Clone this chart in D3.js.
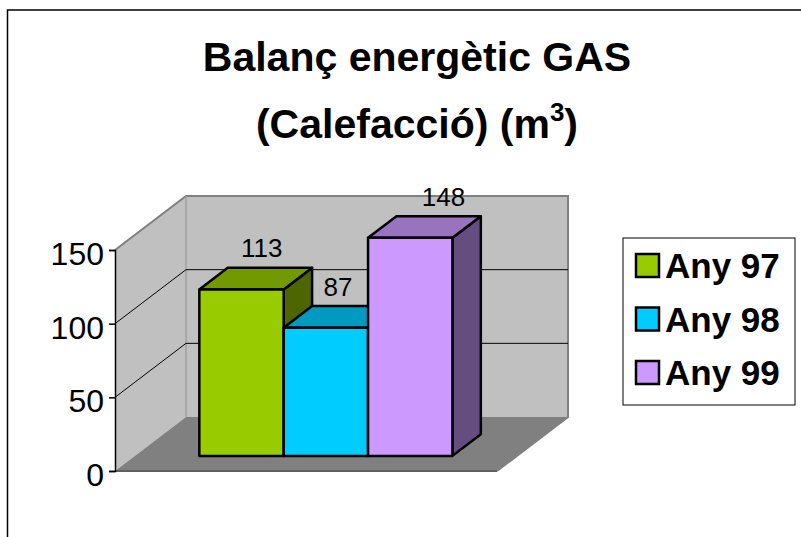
<!DOCTYPE html>
<html>
<head>
<meta charset="utf-8">
<script src="https://cdn.jsdelivr.net/npm/d3@7"></script>
<style>
  body { margin: 0; background: #fff; }
  svg { display: block; font-family: "Liberation Sans", Arial, sans-serif; }
</style>
</head>
<body>
<div id="chart"></div>
<script>
var series = ["Any 97", "Any 98", "Any 99"];
var values = [113, 87, 148];
var yTicks = [0, 50, 100, 150];
var colors = ["#99cc00", "#00ccff", "#cc99ff"];
var titleLines = ["Balanç energètic GAS", "(Calefacció) (m"];

var width = 801, height = 537;

var svg = d3.select("#chart").append("svg")
  .attr("width", width)
  .attr("height", height);

// outer chart frame (only left + top visible)
svg.append("rect")
  .attr("x", 7.5).attr("y", 10)
  .attr("width", 900).attr("height", 700)
  .attr("fill", "none").attr("stroke", "#000").attr("stroke-width", 1.5);

// 3d geometry
var depthX = 71, depthY = -54;
var floorL = 115, floorR = 497;
var y = d3.scaleLinear().domain([0, 150]).range([471, 250]);
var x = d3.scaleBand().domain(series).range([floorL, floorR])
  .paddingInner(0).paddingOuter(0.764);
var d0 = 0.28, d1 = 0.68;

function p(px, v, d) {
  return [px + depthX * d, y(v) + depthY * d];
}
function poly(pts) {
  return pts.map(function(q) { return q[0] + "," + q[1]; }).join(" ");
}

// walls
svg.append("polygon")
  .attr("points", poly([p(floorL, 0, 0), p(floorL, 150, 0), p(floorL, 150, 1), p(floorL, 0, 1)]))
  .attr("fill", "#c0c0c0");
svg.append("polygon")
  .attr("points", poly([p(floorL, 0, 1), p(floorR, 0, 1), p(floorR, 150, 1), p(floorL, 150, 1)]))
  .attr("fill", "#c0c0c0");
svg.append("polygon")
  .attr("points", poly([p(floorL, 0, 0), p(floorR, 0, 0), p(floorR, 0, 1), p(floorL, 0, 1)]))
  .attr("fill", "#808080");

// wall edges
svg.append("polyline")
  .attr("points", poly([p(floorL, 150, 0), p(floorL, 150, 1), p(floorR, 150, 1), p(floorR, 0, 1), p(floorR, 0, 0)]))
  .attr("fill", "none").attr("stroke", "#808080").attr("stroke-width", 2);
svg.append("line")
  .attr("x1", p(floorL, 0, 1)[0]).attr("y1", p(floorL, 0, 1)[1])
  .attr("x2", p(floorL, 150, 1)[0]).attr("y2", p(floorL, 150, 1)[1])
  .attr("stroke", "#a0a0a0").attr("stroke-width", 1.5);

// gridlines
yTicks.filter(function(t) { return t > 0 && t < 150; }).forEach(function(t) {
  svg.append("polyline")
    .attr("points", poly([p(floorL, t, 0), p(floorL, t, 1), p(floorR, t, 1)]))
    .attr("fill", "none").attr("stroke", "#000").attr("stroke-width", 1);
});

// floor front edge
svg.append("line")
  .attr("x1", floorL).attr("y1", y(0)).attr("x2", floorR).attr("y2", y(0))
  .attr("stroke", "#606060").attr("stroke-width", 2);

// y axis
var axis = svg.append("g").attr("transform", "translate(" + floorL + ",0)")
  .call(d3.axisLeft(y).tickValues(yTicks).tickSize(6).tickPadding(5));
axis.select(".domain").attr("stroke", "#000").attr("stroke-width", 1.5);
axis.selectAll(".tick line").attr("stroke", "#000").attr("stroke-width", 1.5);
axis.selectAll(".tick text")
  .attr("font-size", 32).attr("fill", "#000")
  .attr("font-family", "Liberation Sans, Arial, sans-serif")
  .attr("dy", "0.45em");

// bars
series.forEach(function(s, i) {
  var x0 = x(s), x1 = x(s) + x.bandwidth(), v = values[i];
  var g = svg.append("g").attr("stroke", "#000").attr("stroke-width", 2.5)
    .attr("stroke-linejoin", "round");
  var c = d3.color(colors[i]);
  g.append("polygon")
    .attr("points", poly([p(x1, 0, d0), p(x1, v, d0), p(x1, v, d1), p(x1, 0, d1)]))
    .attr("fill", d3.rgb(c.r * 0.5, c.g * 0.5, c.b * 0.5));
  g.append("polygon")
    .attr("points", poly([p(x0, v, d0), p(x1, v, d0), p(x1, v, d1), p(x0, v, d1)]))
    .attr("fill", d3.rgb(c.r * 0.75, c.g * 0.75, c.b * 0.75));
  g.append("polygon")
    .attr("points", poly([p(x0, 0, d0), p(x1, 0, d0), p(x1, v, d0), p(x0, v, d0)]))
    .attr("fill", colors[i]);
});

// value labels
var labelNudge = [6, -2, 19];
svg.selectAll(".val").data(values).enter().append("text")
  .attr("class", "val")
  .attr("x", function(d, i) { return p(x(series[i]) + x.bandwidth() / 2, d, (d0 + d1) / 2)[0] + labelNudge[i]; })
  .attr("y", function(d) { return y(d) + depthY * d0 - 32; })
  .attr("text-anchor", "middle")
  .attr("font-size", 26)
  .text(function(d) { return d; });

// title
var title = svg.append("g").attr("font-weight", "bold").attr("font-size", 41)
  .attr("text-anchor", "middle");
title.append("text").attr("x", 417).attr("y", 71).text(titleLines[0]);
var t2 = title.append("text").attr("x", 417).attr("y", 138);
t2.append("tspan").text(titleLines[1]);
t2.append("tspan").attr("font-size", 26).attr("dy", -17).text("3");
t2.append("tspan").attr("dy", 17).text(")");

// legend
var legend = svg.append("g").attr("transform", "translate(623,238)");
legend.append("rect").attr("width", 172).attr("height", 167)
  .attr("fill", "#fff").attr("stroke", "#000").attr("stroke-width", 1);
var items = legend.selectAll(".item").data(series).enter().append("g")
  .attr("transform", function(d, i) { return "translate(13," + (16 + i * 53.5) + ")"; });
items.append("rect").attr("width", 23).attr("height", 23)
  .attr("fill", function(d, i) { return colors[i]; })
  .attr("stroke", "#000").attr("stroke-width", 2.5);
items.append("text").attr("x", 29).attr("y", 24)
  .attr("font-size", 35).attr("font-weight", "bold")
  .text(function(d) { return d; });
</script>
</body>
</html>
